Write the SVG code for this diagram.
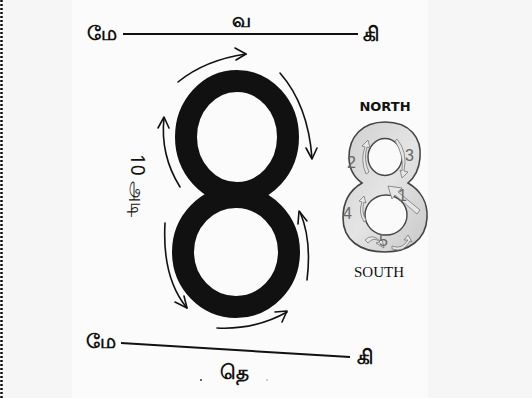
<svg xmlns="http://www.w3.org/2000/svg" width="532" height="398" viewBox="0 0 532 398">
<style>
.t{font-family:"Noto Sans",sans-serif;fill:#111;font-size:20px;font-weight:bold}
.arr{fill:none;stroke:#111;stroke-width:1.6;stroke-linecap:round}
.ah{fill:none;stroke:#111;stroke-width:1.6;stroke-linecap:round;stroke-linejoin:round}
.num{font-family:"Liberation Sans",sans-serif;font-size:16px;fill:#666}
.ga{fill:#e6e6e6;stroke:#777;stroke-width:0.8}
</style>
<defs>
<linearGradient id="g8" x1="0" y1="0" x2="1" y2="1">
<stop offset="0" stop-color="#cfcfcf"/>
<stop offset="0.5" stop-color="#e4e4e4"/>
<stop offset="1" stop-color="#c8c8c8"/>
</linearGradient>
</defs>
<rect width="532" height="398" fill="#f6f6f6"/>
<rect x="72" y="0" width="356" height="398" fill="#fbfbfb"/>
<line x1="1.5" y1="0" x2="1.5" y2="398" stroke="#111" stroke-width="2.5" stroke-dasharray="2,2"/>

<g id="compass-top">
<text class="t" x="87" y="40">மே</text>
<text class="t" x="232" y="27">வ</text>
<text class="t" x="363" y="41">கி</text>
<line x1="123" y1="34" x2="358" y2="34" stroke="#111" stroke-width="2"/>
</g>

<g id="compass-bottom">
<text class="t" x="86" y="348">மே</text>
<text class="t" x="357" y="364">கி</text>
<text class="t" x="220" y="379">தெ</text>
<line x1="121" y1="343" x2="350" y2="357" stroke="#111" stroke-width="2"/>
<circle cx="201" cy="380" r="1" fill="#333"/>
<circle cx="267" cy="380" r="1" fill="#bbb"/>
</g>

<g id="big-eight">
<ellipse cx="237" cy="137" rx="51" ry="56" fill="none" stroke="#111" stroke-width="22"/>
<ellipse cx="236" cy="252" rx="53" ry="55" fill="none" stroke="#111" stroke-width="22"/>
</g>

<g id="label-10">
<text class="t" style="font-weight:normal;font-size:19px" transform="translate(131,154) rotate(90)">10 அடி</text>
</g>

<g id="connectors">
<path class="arr" d="M178,82 Q205,60 246,54"/>
<path class="ah" d="M235,48 L246,54 L236,60"/>
<path class="arr" d="M280,73 Q308,105 312,158"/>
<path class="ah" d="M306,148 L312,159 L317,148"/>
<path class="arr" d="M180,187 Q160,155 164,118"/>
<path class="ah" d="M158,128 L164,117 L169,128"/>
<path class="arr" d="M165,223 Q162,278 187,308"/>
<path class="ah" d="M175,302 L187,308 L184,296"/>
<path class="arr" d="M217,328 Q255,330 287,312"/>
<path class="ah" d="M275,312 L287,311 L282,322"/>
<path class="arr" d="M307,280 Q312,240 300,212"/>
<path class="ah" d="M298,224 L299,211 L307,221"/>
</g>

<g id="small-eight">
<text x="385" y="111" text-anchor="middle" font-family="DejaVu Sans" font-weight="bold" font-size="13" fill="#111">NORTH</text>
<path d="M385,122 C410,122 422,138 420,158 C419,170 414,178 408,183 C420,190 428,202 427,218 C426,240 408,252 385,252 C360,252 343,240 343,218 C343,202 350,190 362,183 C355,178 349,170 349,157 C349,137 362,122 385,122 Z" fill="url(#g8)" stroke="#444" stroke-width="1.6"/>
<ellipse cx="385" cy="157" rx="17" ry="18.5" fill="#fafafa" stroke="#444" stroke-width="1.4"/>
<ellipse cx="386" cy="215" rx="21" ry="20" fill="#fafafa" stroke="#444" stroke-width="1.4"/>
<path class="ga" d="M366,174 Q360,160 365,147 L362,146 L368,140 L370,148 L367,147 Q363,160 369,172 Z"/>
<path class="ga" d="M397,139 Q408,152 404,171 L408,172 L402,178 L400,170 L402,171 Q404,155 395,141 Z"/>
<path class="ga" d="M420,210 L398,192 L402,188 L388,186 L392,199 L395,195 L417,214 Z" fill="#f8f8f8"/>
<path class="ga" d="M364,222 Q358,212 362,202 L359,201 L364,196 L366,203 L364,202 Q361,212 366,220 Z"/>
<path class="ga" d="M368,243 Q374,236 380,242 L376,243 L384,248 L382,239 L380,241 Q372,233 365,240 Z"/>
<path class="ga" d="M392,246 Q402,250 408,240 L404,240 L408,235 L412,242 L410,241 Q404,253 392,249 Z"/>
<text class="num" x="347" y="168">2</text>
<text class="num" x="405" y="161">3</text>
<text class="num" x="398" y="201">1</text>
<text class="num" x="343" y="219">4</text>
<text class="num" x="379" y="246">5</text>
<text x="379" y="277" text-anchor="middle" font-family="Liberation Serif" font-size="15" fill="#111">SOUTH</text>
</g>
</svg>
